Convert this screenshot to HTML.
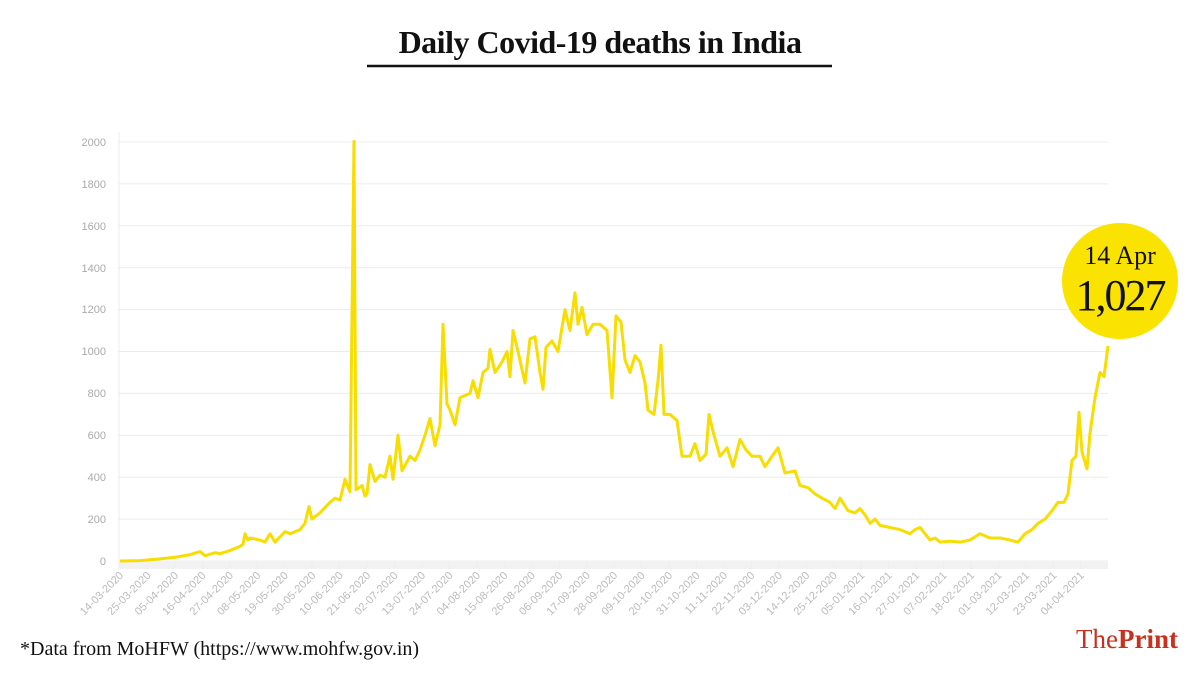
<!DOCTYPE html>
<html><head><meta charset="utf-8"><style>
body{margin:0;background:#fff;width:1200px;height:675px;overflow:hidden;font-family:"Liberation Serif",serif}
</style></head><body>
<svg width="1200" height="675" xmlns="http://www.w3.org/2000/svg">
<text x="600" y="53" text-anchor="middle" font-family="Liberation Serif" font-weight="bold" font-size="32" fill="#111" letter-spacing="-0.5">Daily Covid-19 deaths in India</text>
<line x1="367" y1="66" x2="832" y2="66" stroke="#111" stroke-width="2.5"/>
<g stroke="#ececec" stroke-width="1">
<line x1="118" y1="561" x2="1108" y2="561"/><line x1="118" y1="519.1" x2="1108" y2="519.1"/><line x1="118" y1="477.2" x2="1108" y2="477.2"/><line x1="118" y1="435.3" x2="1108" y2="435.3"/><line x1="118" y1="393.4" x2="1108" y2="393.4"/><line x1="118" y1="351.5" x2="1108" y2="351.5"/><line x1="118" y1="309.6" x2="1108" y2="309.6"/><line x1="118" y1="267.7" x2="1108" y2="267.7"/><line x1="118" y1="225.8" x2="1108" y2="225.8"/><line x1="118" y1="183.9" x2="1108" y2="183.9"/><line x1="118" y1="142" x2="1108" y2="142"/>
<line x1="119" y1="132" x2="119" y2="570"/>
</g>
<rect x="119" y="561" width="989" height="8" fill="#f2f2f2"/>
<g font-family="Liberation Sans" font-size="11" fill="#aaa" text-anchor="end">
<text x="106" y="565">0</text><text x="106" y="523">200</text><text x="106" y="481">400</text><text x="106" y="439">600</text><text x="106" y="397">800</text><text x="106" y="355">1000</text><text x="106" y="313">1200</text><text x="106" y="272">1400</text><text x="106" y="230">1600</text><text x="106" y="188">1800</text><text x="106" y="146">2000</text>
</g>
<g id="xl" font-family="Liberation Sans" font-size="11" fill="#bbb" text-anchor="end"></g>
<g transform="translate(0,561) scale(1,-0.2095)">
<polyline fill="none" stroke="#f7dd00" stroke-width="3" stroke-linejoin="round" vector-effect="non-scaling-stroke" points="120,0 140,2 160,10 175,18 190,30 200,45 205,25 215,40 220,35 230,50 240,70 243,80 245,130 248,100 250,110 260,100 265,90 270,130 275,90 285,140 290,130 300,150 305,180 309,260 312,200 320,230 330,280 335,300 340,290 345,390 350,330 354,2003 356,340 362,360 365,310 367,320 370,460 375,380 380,410 385,400 390,500 393,390 398,600 402,430 410,500 415,480 420,530 425,600 430,680 435,550 440,650 443,1130 447,750 450,720 455,650 460,780 470,800 473,860 478,780 483,900 488,920 490,1010 495,900 502,950 507,1000 510,880 513,1100 518,1000 525,850 530,1060 535,1070 540,900 543,820 546,1020 552,1050 558,1000 565,1200 570,1100 575,1280 578,1130 582,1210 587,1080 593,1130 600,1130 607,1100 612,780 616,1170 621,1140 625,960 630,900 635,980 640,950 645,850 648,720 654,700 658,860 661,1030 664,700 670,700 677,670 682,500 690,500 695,560 700,480 706,510 709,700 714,600 720,500 727,540 733,450 740,580 746,530 752,500 760,500 765,450 772,500 778,540 785,420 795,430 800,360 808,350 815,320 822,300 830,280 835,250 840,300 848,240 855,230 860,250 865,220 870,180 875,200 880,170 890,160 900,150 910,130 915,150 920,160 930,100 935,110 940,90 950,95 960,90 970,100 980,130 990,110 1000,110 1010,100 1018,90 1025,130 1032,150 1038,180 1045,200 1052,240 1058,280 1064,280 1068,320 1072,480 1076,500 1079,710 1082,520 1087,440 1090,610 1095,780 1100,900 1104,880 1108,1027"/>
</g>
<circle cx="1120" cy="281" r="58" fill="#fbe300"/>
<text x="1120" y="264" text-anchor="middle" font-family="Liberation Serif" font-size="26" fill="#111">14 Apr</text>
<text x="1120" y="310" text-anchor="middle" font-family="Liberation Serif" font-size="44" fill="#111" letter-spacing="-2">1,027</text>
<text x="20" y="655" font-family="Liberation Serif" font-size="20" fill="#111">*Data from MoHFW (https://www.mohfw.gov.in)</text>
<text x="1178" y="648" text-anchor="end" font-family="Liberation Serif" font-size="27" fill="#c8311e">The<tspan font-weight="bold">Print</tspan></text>
</svg>
<script>
var d=["14-03-2020","25-03-2020","05-04-2020","16-04-2020","27-04-2020","08-05-2020","19-05-2020","30-05-2020","10-06-2020","21-06-2020","02-07-2020","13-07-2020","24-07-2020","04-08-2020","15-08-2020","26-08-2020","06-09-2020","17-09-2020","28-09-2020","09-10-2020","20-10-2020","31-10-2020","11-11-2020","22-11-2020","03-12-2020","14-12-2020","25-12-2020","05-01-2021","16-01-2021","27-01-2021","07-02-2021","18-02-2021","01-03-2021","12-03-2021","23-03-2021","04-04-2021"];
var g=document.getElementById('xl'),s='';
d.forEach(function(t,i){var x=120+i*27.45;s+='<line x1="'+x+'" y1="561" x2="'+x+'" y2="569" stroke="#eee"/>';s+='<text transform="translate('+(x+4)+',576) rotate(-45)">'+t+'</text>';});
g.innerHTML=s;
</script>
</body></html>
